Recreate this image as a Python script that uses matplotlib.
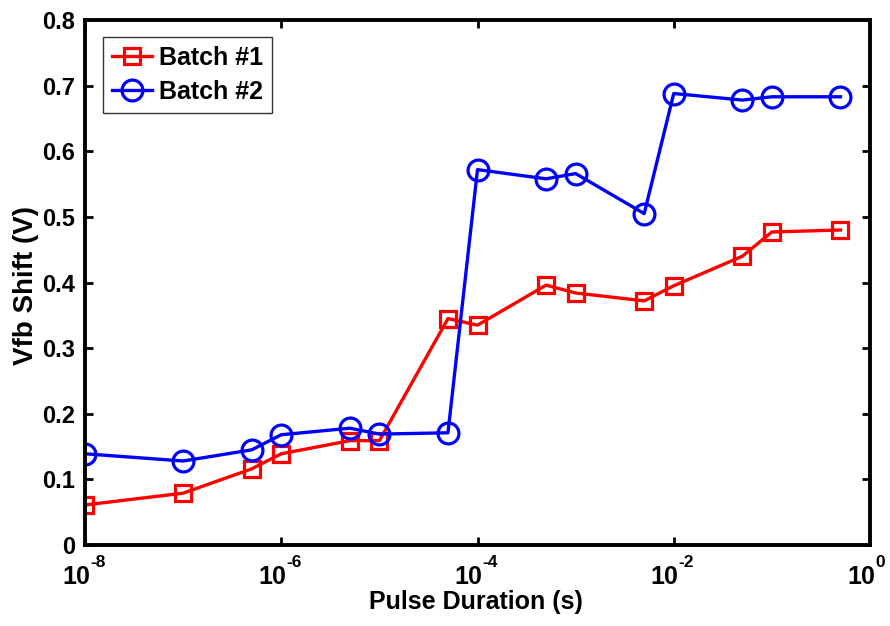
import matplotlib
matplotlib.use("Agg")
import matplotlib.pyplot as plt
import matplotlib.transforms as mtransforms

pulse = [1e-8, 1e-7, 5e-7, 1e-6, 5e-6, 1e-5, 5e-5, 1e-4, 5e-4, 1e-3, 5e-3, 1e-2, 5e-2, 1e-1, 5e-1]
batch1 = [0.061, 0.079, 0.116, 0.139, 0.159, 0.159, 0.345, 0.335, 0.396, 0.384, 0.372, 0.395, 0.440, 0.477, 0.480]
batch2 = [0.139, 0.128, 0.145, 0.168, 0.178, 0.169, 0.171, 0.572, 0.558, 0.566, 0.505, 0.688, 0.678, 0.683, 0.683]

xticks = [1e-8, 1e-6, 1e-4, 1e-2, 1e0]
xtick_base = '10'
xtick_exps = ['-8', '-6', '-4', '-2', '0']
yticks = [0, 0.1, 0.2, 0.3, 0.4, 0.5, 0.6, 0.7, 0.8]
ytick_labels = ['0', '0.1', '0.2', '0.3', '0.4', '0.5', '0.6', '0.7', '0.8']

plt.rcParams['font.family'] = ['Liberation Sans', 'DejaVu Sans']
plt.rcParams['font.weight'] = 'bold'

fig = plt.figure(figsize=(8.9, 6.26), dpi=100)
ax = fig.add_axes([85 / 890, 81 / 626, 785 / 890, 525 / 626])

ax.plot(pulse, batch1, color='#ff0000', lw=2.4, marker='s', ms=12, mfc='none',
        mec='#ff0000', mew=2.3, label='Batch #1')
ax.plot(pulse, batch2, color='#0000ff', lw=2.4, marker='o', ms=15, mfc='none',
        mec='#0000ff', mew=2.3, label='Batch #2')

ax.set_xscale('log')
ax.set_xlim(1e-8, 1e0)
ax.set_ylim(0, 0.8)
ax.set_xticks(xticks)
ax.set_xticklabels([''] * len(xticks))
ax.xaxis.set_minor_locator(matplotlib.ticker.NullLocator())
ax.set_yticks(yticks)
ax.set_yticklabels(ytick_labels)

ax.tick_params(which='major', direction='in', length=6, width=2, top=True, right=True,
               labelsize=17, pad=7)
for s in ax.spines.values():
    s.set_linewidth(2.8)

# x tick labels as base with raised exponent
blend = mtransforms.blended_transform_factory(ax.transData, ax.transAxes)
for xt, e in zip(xticks, xtick_exps):
    tb = mtransforms.offset_copy(blend, fig=fig, x=3.6, y=-27.8, units='points')
    ax.text(xt, 0, xtick_base, transform=tb, ha='right', va='baseline',
            fontsize=18, fontweight='bold', clip_on=False)
    te = mtransforms.offset_copy(blend, fig=fig, x=3.6, y=-16.0, units='points')
    ax.text(xt, 0, e, transform=te, ha='left', va='baseline',
            fontsize=12.5, fontweight='bold', clip_on=False)

ax.set_xlabel('Pulse Duration (s)', fontsize=18, fontweight='bold')
ax.xaxis.set_label_coords(0.498, -0.086)
ax.xaxis.label.set_va('top')
ax.set_ylabel('Vfb Shift (V)', fontsize=20, fontweight='bold')
ax.yaxis.set_label_coords(-0.058, 0.495)

leg = ax.legend(loc='upper left', bbox_to_anchor=(0.0229, 0.9676), fontsize=18,
                frameon=True, fancybox=False, edgecolor='black', handlelength=1.6,
                borderpad=0.35, labelspacing=0.4, handletextpad=0.3, borderaxespad=0)
leg.get_frame().set_linewidth(1.0)
for t in leg.get_texts():
    t.set_fontweight('bold')

fig.savefig('out.png', dpi=100)
